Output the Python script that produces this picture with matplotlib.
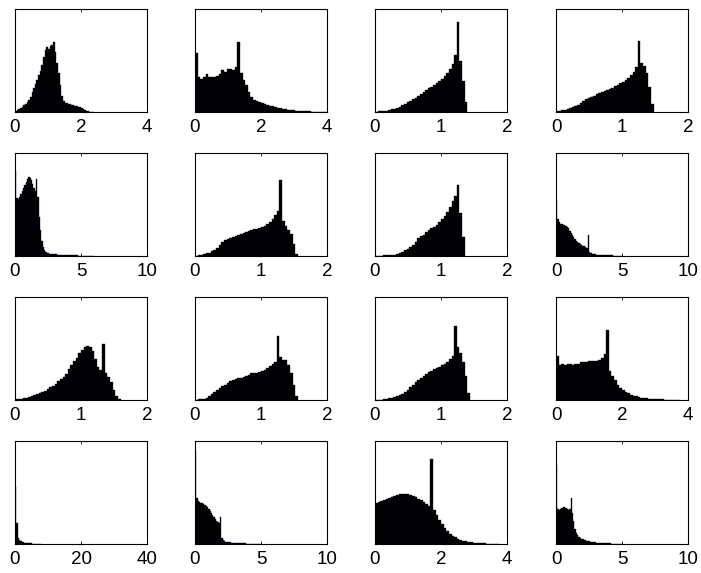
"""
4x4 grid of histograms (MATLAB-style, black bars, x ticks only).
Bin heights are read off the reference picture as fractions of the axes height.
"""

import matplotlib
matplotlib.use("Agg")
import matplotlib.pyplot as plt
import numpy as np

plt.rcParams.update({
    "font.family": ["Liberation Sans", "DejaVu Sans"],
    "font.size": 13.5,
    "axes.linewidth": 0.8,
})

# x-axis upper limit of every panel, row by row
XMAX = [4, 4, 2, 2,
        10, 2, 2, 10,
        2, 2, 2, 4,
        40, 10, 4, 10]

# bin width of every panel
BIN_W = [0.05, 0.08, 0.04, 0.04,
         0.1, 0.04, 0.04, 0.1,
         0.04, 0.04, 0.04, 0.08,
         0.4, 0.1, 0.08, 0.1]

h1 = [0.01, 0.02, 0.03, 0.04, 0.05, 0.065, 0.08, 0.10, 0.12, 0.15,
      0.19, 0.23, 0.27, 0.31, 0.36, 0.40, 0.46, 0.53, 0.60, 0.63,
      0.61, 0.64, 0.65, 0.68, 0.58, 0.48, 0.38, 0.26, 0.16, 0.11,
      0.09, 0.085, 0.08, 0.075, 0.07, 0.065, 0.06, 0.055, 0.05, 0.045,
      0.035, 0.03, 0.02, 0.013, 0.008, 0.004, 0.002, 0.001]
h2 = [0.57, 0.34, 0.32, 0.34, 0.37, 0.34, 0.335, 0.34, 0.35, 0.37,
      0.41, 0.39, 0.42, 0.42, 0.41, 0.44, 0.68, 0.38, 0.31, 0.26,
      0.19, 0.15, 0.12, 0.11, 0.10, 0.09, 0.08, 0.07, 0.06, 0.055,
      0.05, 0.04, 0.035, 0.03, 0.025, 0.02, 0.018, 0.015, 0.013, 0.011,
      0.009, 0.008, 0.006, 0.005, 0.004, 0.003, 0.003, 0.002, 0.002, 0.001]
h3 = [0.003, 0.005, 0.007, 0.01, 0.013, 0.018, 0.025, 0.032, 0.04, 0.05,
      0.065, 0.08, 0.095, 0.11, 0.125, 0.14, 0.155, 0.175, 0.195, 0.21,
      0.23, 0.245, 0.265, 0.285, 0.305, 0.325, 0.35, 0.38, 0.42, 0.47,
      0.55, 0.87, 0.50, 0.30, 0.10]
h4 = [0.005, 0.01, 0.015, 0.02, 0.028, 0.035, 0.045, 0.055, 0.07, 0.09,
      0.11, 0.125, 0.14, 0.15, 0.16, 0.17, 0.18, 0.19, 0.20, 0.21,
      0.22, 0.235, 0.25, 0.265, 0.28, 0.29, 0.31, 0.33, 0.36, 0.39,
      0.44, 0.69, 0.48, 0.45, 0.38, 0.24, 0.08]
h5 = [0.83, 0.56, 0.55, 0.57, 0.60, 0.63, 0.66, 0.69, 0.72, 0.75,
      0.77, 0.76, 0.74, 0.70, 0.66, 0.63, 0.75, 0.57, 0.38, 0.25,
      0.15, 0.09, 0.06, 0.04, 0.03, 0.027, 0.024, 0.022, 0.02, 0.018,
      0.016, 0.015, 0.014, 0.013, 0.012, 0.011, 0.01, 0.01, 0.009, 0.009,
      0.008, 0.008, 0.007, 0.007, 0.006, 0.006, 0.005, 0.005, 0.004, 0.004,
      0.004, 0.003, 0.003, 0.003, 0.002, 0.002, 0.002, 0.002, 0.001, 0.001]
h6 = [0.003, 0.006, 0.01, 0.018, 0.025, 0.03, 0.045, 0.06, 0.08, 0.105,
      0.135, 0.155, 0.165, 0.175, 0.185, 0.195, 0.205, 0.215, 0.225, 0.23,
      0.24, 0.25, 0.26, 0.265, 0.275, 0.285, 0.295, 0.31, 0.33, 0.355,
      0.40, 0.44, 0.74, 0.34, 0.29, 0.25, 0.21, 0.12, 0.02]
h7 = [0.002, 0.003, 0.004, 0.005, 0.006, 0.008, 0.01, 0.013, 0.02, 0.028,
      0.04, 0.055, 0.07, 0.09, 0.11, 0.14, 0.17, 0.19, 0.205, 0.23,
      0.255, 0.275, 0.285, 0.30, 0.33, 0.36, 0.39, 0.43, 0.48, 0.53,
      0.58, 0.69, 0.42, 0.18]
h8 = [0.54, 0.36, 0.33, 0.31, 0.31, 0.30, 0.30, 0.295, 0.285, 0.27,
      0.245, 0.22, 0.20, 0.18, 0.165, 0.15, 0.14, 0.13, 0.12, 0.11,
      0.10, 0.095, 0.09, 0.08, 0.20, 0.04, 0.025, 0.02, 0.017, 0.015,
      0.013, 0.012, 0.011, 0.01, 0.009, 0.008, 0.008, 0.007, 0.007, 0.006,
      0.006, 0.005, 0.005, 0.004, 0.004, 0.004, 0.003, 0.003, 0.003, 0.002]
h9 = [0.005, 0.008, 0.012, 0.016, 0.02, 0.027, 0.034, 0.045, 0.055, 0.065,
      0.08, 0.09, 0.11, 0.125, 0.14, 0.16, 0.18, 0.20, 0.22, 0.25,
      0.30, 0.34, 0.38, 0.41, 0.46, 0.49, 0.51, 0.52, 0.51, 0.48,
      0.40, 0.32, 0.29, 0.54, 0.26, 0.22, 0.17, 0.10, 0.04, 0.008]
h10 = [0.003, 0.005, 0.008, 0.012, 0.02, 0.035, 0.055, 0.075, 0.095, 0.115,
       0.135, 0.15, 0.165, 0.18, 0.19, 0.20, 0.21, 0.215, 0.225, 0.235,
       0.245, 0.26, 0.26, 0.265, 0.275, 0.285, 0.295, 0.31, 0.33, 0.35,
       0.37, 0.62, 0.42, 0.39, 0.39, 0.34, 0.26, 0.15, 0.04]
h11 = [0.001, 0.002, 0.003, 0.006, 0.012, 0.016, 0.02, 0.025, 0.035, 0.045,
       0.06, 0.08, 0.10, 0.125, 0.15, 0.175, 0.195, 0.215, 0.235, 0.255,
       0.27, 0.285, 0.30, 0.31, 0.32, 0.335, 0.35, 0.37, 0.40, 0.43,
       0.72, 0.51, 0.46, 0.37, 0.23, 0.07]
h12 = [0.43, 0.34, 0.35, 0.34, 0.345, 0.345, 0.34, 0.345, 0.35, 0.37,
       0.37, 0.37, 0.375, 0.377, 0.375, 0.38, 0.39, 0.41, 0.45, 0.68,
       0.28, 0.23, 0.19, 0.15, 0.12, 0.10, 0.08, 0.065, 0.05, 0.042,
       0.035, 0.028, 0.022, 0.018, 0.015, 0.012, 0.01, 0.009, 0.007, 0.006,
       0.005, 0.004, 0.003, 0.002, 0.002, 0.001, 0.001]
h13 = [0.55, 0.2, 0.06, 0.035, 0.025, 0.02, 0.015, 0.012, 0.01, 0.008,
       0.007, 0.006, 0.005, 0.004, 0.004, 0.003, 0.003, 0.002, 0.002, 0.001]
h14 = [0.90, 0.45, 0.42, 0.41, 0.40, 0.40, 0.39, 0.38, 0.37, 0.36,
       0.34, 0.32, 0.30, 0.28, 0.26, 0.24, 0.22, 0.21, 0.20, 0.26,
       0.06, 0.035, 0.028, 0.024, 0.02, 0.018, 0.016, 0.014, 0.012, 0.011,
       0.01, 0.009, 0.008, 0.008, 0.007, 0.006, 0.006, 0.005, 0.005, 0.004,
       0.004, 0.003, 0.003, 0.003, 0.002, 0.002, 0.002, 0.001, 0.001, 0.001]
h15 = [0.40, 0.41, 0.42, 0.43, 0.44, 0.45, 0.46, 0.47, 0.48, 0.485,
       0.49, 0.49, 0.485, 0.48, 0.47, 0.46, 0.44, 0.43, 0.41, 0.39,
       0.37, 0.83, 0.33, 0.28, 0.23, 0.19, 0.155, 0.125, 0.10, 0.08,
       0.065, 0.05, 0.04, 0.032, 0.025, 0.02, 0.016, 0.012, 0.01, 0.008,
       0.006, 0.005, 0.004, 0.003, 0.002, 0.001, 0.001]
h16 = [0.77, 0.34, 0.33, 0.34, 0.35, 0.36, 0.36, 0.35, 0.34, 0.33,
       0.34, 0.45, 0.30, 0.22, 0.15, 0.11, 0.085, 0.07, 0.06, 0.05,
       0.045, 0.04, 0.035, 0.03, 0.028, 0.025, 0.022, 0.02, 0.018, 0.016,
       0.014, 0.013, 0.012, 0.011, 0.01, 0.009, 0.008, 0.007, 0.006, 0.006,
       0.005, 0.005, 0.004, 0.004, 0.003, 0.003, 0.003, 0.002, 0.002, 0.001]

HEIGHTS = [h1, h2, h3, h4, h5, h6, h7, h8,
           h9, h10, h11, h12, h13, h14, h15, h16]

# axes placement in pixels of the 701x573 figure
W, H = 701, 573
COL_LEFT = [15, 195, 375, 556]
ROW_TOP = [9, 153, 297, 441]
AX_W, AX_H = 132, 103

fig = plt.figure(figsize=(W / 100, H / 100), dpi=100)

for i, (xmax, bw, h) in enumerate(zip(XMAX, BIN_W, HEIGHTS)):
    r, c = divmod(i, 4)
    ax = fig.add_axes([COL_LEFT[c] / W, 1 - (ROW_TOP[r] + AX_H) / H,
                       AX_W / W, AX_H / H])
    lefts = np.arange(len(h)) * bw
    ax.bar(lefts, h, width=bw, align="edge", facecolor="black",
           edgecolor="#000014", linewidth=0.25)
    ax.set_xlim(0, xmax)
    ax.set_ylim(0, 1)
    ax.set_xticks([0, xmax / 2, xmax])
    ax.set_xticklabels([f"{v:g}" for v in (0, xmax / 2, xmax)])
    ax.set_yticks([])
    ax.tick_params(axis="x", direction="in", length=2, width=0.6,
                   top=True, pad=5)

fig.savefig("out.png", dpi=100)
